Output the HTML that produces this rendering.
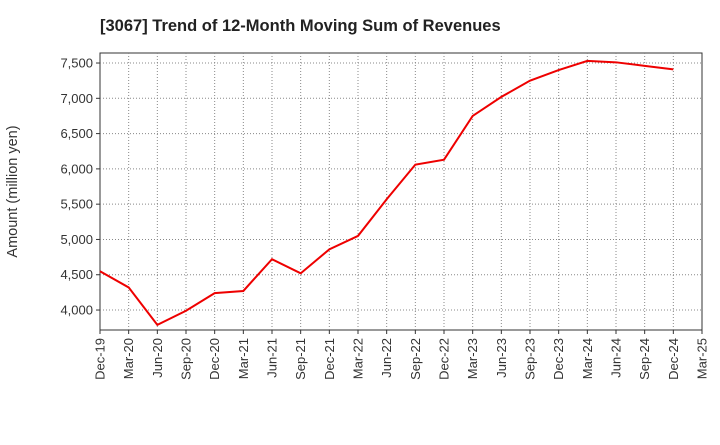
<!DOCTYPE html>
<html><head><meta charset="utf-8"><style>
body{margin:0;background:#fff;font-family:"Liberation Sans",Arial,sans-serif}
</style></head><body>
<svg id="c" width="720" height="440" xmlns="http://www.w3.org/2000/svg"></svg>
<script>
const categories=["Dec-19","Mar-20","Jun-20","Sep-20","Dec-20","Mar-21","Jun-21","Sep-21","Dec-21","Mar-22","Jun-22","Sep-22","Dec-22","Mar-23","Jun-23","Sep-23","Dec-23","Mar-24","Jun-24","Sep-24","Dec-24","Mar-25"];
const revenues=[4550,4320,3790,3990,4240,4270,4720,4520,4860,5050,5570,6060,6130,6750,7020,7250,7400,7530,7510,7460,7410];
const yTicks=[4000,4500,5000,5500,6000,6500,7000,7500];
const yTickLabels=["4,000","4,500","5,000","5,500","6,000","6,500","7,000","7,500"];
const NS="http://www.w3.org/2000/svg";
const svg=document.getElementById('c');
const L=100,R=702,T=53,B=330,yMin=3717,yMax=7642;
const x=i=>L+i*(R-L)/(categories.length-1);
const y=v=>B-(v-yMin)/(yMax-yMin)*(B-T);
function mk(t,a){const e=document.createElementNS(NS,t);for(const k in a)e.setAttribute(k,a[k]);svg.appendChild(e);return e;}
let e;
e=mk('text',{x:100,y:31,'text-anchor':'start','font-size':16.5,'font-weight':'bold',fill:'#222'});e.textContent="[3067]  Trend of 12-Month Moving Sum of Revenues";
e.setAttribute('xml:space','preserve');


e=mk('rect',{x:L,y:T,width:R-L,height:B-T,fill:'#fff',stroke:'#333','stroke-width':1});


categories.forEach((c,i)=>{
  if(i>0&&i<categories.length-1){e=mk('line',{x1:x(i),x2:x(i),y1:T,y2:B,stroke:'#888','stroke-dasharray':'1,2'});
  
  }
  e=mk('line',{x1:x(i),x2:x(i),y1:B,y2:B+4,stroke:'#333'});
  
  
  e=mk('text',{x:0,y:0,'font-size':13,fill:'#333','text-anchor':'end',transform:`translate(${x(i)+4.5},${B+8}) rotate(-90)`});e.textContent=c;
  
  
});
yTicks.forEach((v,i)=>{
  e=mk('line',{x1:L,x2:R,y1:y(v),y2:y(v),stroke:'#888','stroke-dasharray':'1,2'});
  
  
  e=mk('line',{x1:L-4,x2:L,y1:y(v),y2:y(v),stroke:'#333'});
  
  
  e=mk('text',{x:L-7,y:y(v)+4.5,'font-size':13,fill:'#333','text-anchor':'end'});e.textContent=yTickLabels[i];
  
  
});
e=mk('text',{x:0,y:0,'font-size':14.5,fill:'#333','text-anchor':'middle',transform:`translate(17,${(T+B)/2}) rotate(-90)`});e.textContent="Amount (million yen)";


e=mk('polyline',{points:revenues.map((v,i)=>x(i)+','+y(v)).join(' '),fill:'none',stroke:'#ee0000','stroke-width':2});


</script>
</body></html>
